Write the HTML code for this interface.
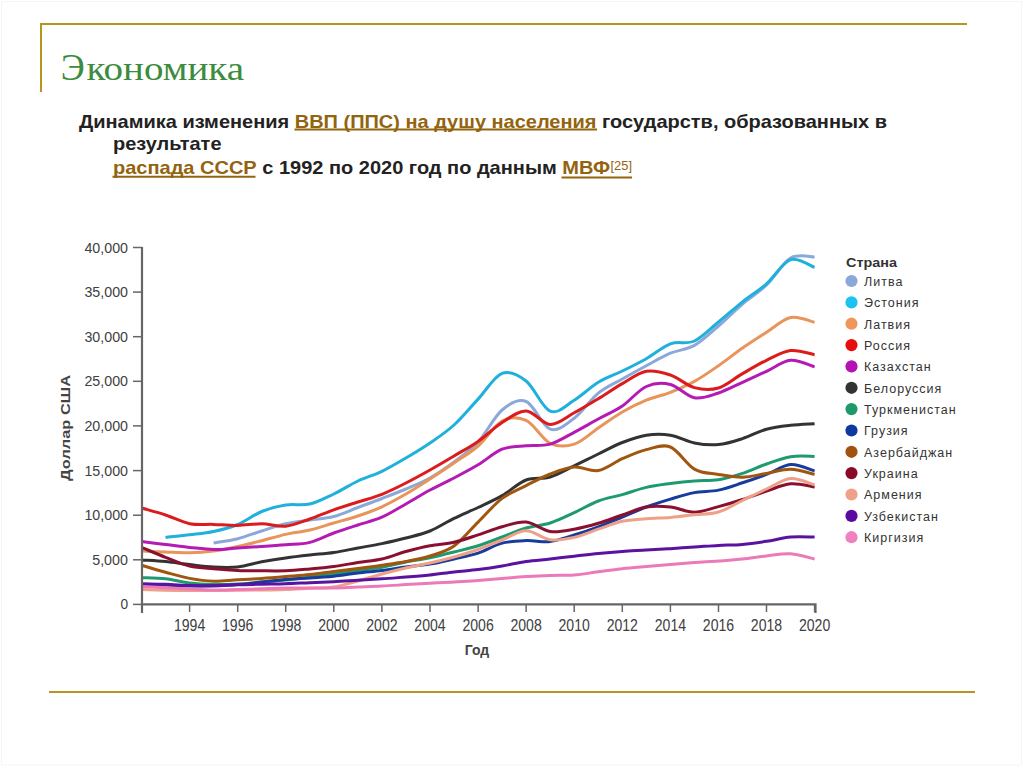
<!DOCTYPE html>
<html><head><meta charset="utf-8">
<style>
html,body{margin:0;padding:0;background:#fff;}
body{width:1024px;height:767px;overflow:hidden;position:relative;}
svg{position:absolute;left:0;top:0;}
.t{font-family:"Liberation Serif",serif;}
.s{font-family:"Liberation Sans",sans-serif;}
</style></head><body>
<svg width="1024" height="767" viewBox="0 0 1024 767">
<rect x="0" y="0" width="1024" height="767" fill="#fff"/>
<rect x="1.5" y="1.5" width="1020" height="763.5" fill="none" stroke="#f5f5f5" stroke-width="1"/>
<!-- frame -->
<path d="M41 92 V24 H967" fill="none" stroke="#b8951e" stroke-width="2"/>
<line x1="49" y1="692" x2="975" y2="692" stroke="#b8951e" stroke-width="2"/>
<text class="t" x="60.8" y="80" font-size="37" fill="#3d8b3d" textLength="24" lengthAdjust="spacingAndGlyphs">Э</text><text class="t" x="86.5" y="80" font-size="33" fill="#3d8b3d" textLength="157.5" lengthAdjust="spacingAndGlyphs">кономика</text>
<g class="s" font-weight="bold" font-size="18.5" fill="#222">
<text id="l1" x="79" y="127.5" textLength="808" lengthAdjust="spacingAndGlyphs">Динамика изменения <tspan fill="#93640f">ВВП (ППС) на душу населения</tspan> государств, образованных в</text>
<text id="l2" x="113" y="149.5" textLength="108.5" lengthAdjust="spacingAndGlyphs">результате</text>
<text id="l3" x="113" y="173.5" textLength="497" lengthAdjust="spacingAndGlyphs"><tspan fill="#93640f">распада СССР</tspan> с 1992 по 2020 год по данным <tspan fill="#93640f">МВФ</tspan></text>
</g>
<g stroke="#93640f" stroke-width="2">
<line x1="294.5" y1="129.6" x2="597" y2="129.6"/>
<line x1="112.5" y1="176.8" x2="255.5" y2="176.8"/>
<line x1="561.5" y1="177.5" x2="632" y2="177.5"/>
</g>
<text class="s" x="610.5" y="169.6" font-size="12.6" fill="#93640f" textLength="21.5" lengthAdjust="spacingAndGlyphs">[25]</text>
<!-- chart lines -->
<g fill="none" stroke-width="3" stroke-linejoin="round" stroke-linecap="butt">
<path d="M213.6 543.0 C217.6 542.3 229.6 540.7 237.7 538.7 C245.7 536.7 253.7 533.5 261.7 531.0 C269.7 528.5 277.7 525.6 285.7 523.8 C293.8 522.0 301.8 521.2 309.8 520.0 C317.8 518.8 325.8 518.6 333.8 516.5 C341.8 514.4 349.8 510.5 357.9 507.5 C365.9 504.5 373.9 501.6 381.9 498.5 C389.9 495.4 397.9 492.4 405.9 489.0 C414.0 485.6 422.0 482.5 430.0 478.0 C438.0 473.5 446.0 468.0 454.0 462.0 C462.0 456.0 470.0 450.7 478.1 442.0 C486.1 433.3 494.1 416.8 502.1 410.0 C510.1 403.2 518.1 398.3 526.1 401.5 C534.2 404.7 542.2 426.4 550.2 429.2 C558.2 432.0 566.2 424.2 574.2 418.2 C582.2 412.2 590.2 399.7 598.3 393.2 C606.3 386.7 614.3 383.6 622.3 379.0 C630.3 374.4 638.3 370.0 646.3 365.7 C654.4 361.4 662.4 356.6 670.4 353.2 C678.4 349.8 686.4 349.9 694.4 345.4 C702.4 340.9 710.4 332.9 718.5 326.0 C726.5 319.1 734.5 310.8 742.5 304.0 C750.5 297.2 758.5 292.7 766.5 285.0 C774.6 277.3 782.6 262.7 790.6 258.0 C798.6 253.3 810.6 257.2 814.6 257.0" stroke="#8aa8d8"/>
<path d="M165.5 537.5 C169.5 537.0 181.6 535.8 189.6 534.8 C197.6 533.8 205.6 533.2 213.6 531.5 C221.6 529.8 229.6 527.8 237.7 524.5 C245.7 521.2 253.7 514.8 261.7 511.5 C269.7 508.2 277.7 506.2 285.7 505.0 C293.8 503.8 301.8 505.8 309.8 504.0 C317.8 502.2 325.8 497.8 333.8 494.0 C341.8 490.2 349.8 484.8 357.9 481.0 C365.9 477.2 373.9 475.1 381.9 471.3 C389.9 467.5 397.9 462.7 405.9 458.0 C414.0 453.3 422.0 448.5 430.0 443.0 C438.0 437.5 446.0 432.3 454.0 425.0 C462.0 417.7 470.0 407.7 478.1 399.1 C486.1 390.5 494.1 376.3 502.1 373.3 C510.1 370.3 518.1 374.7 526.1 381.0 C534.2 387.3 542.2 408.0 550.2 411.2 C558.2 414.4 566.2 405.0 574.2 400.2 C582.2 395.4 590.2 387.2 598.3 382.3 C606.3 377.4 614.3 374.9 622.3 371.0 C630.3 367.1 638.3 363.2 646.3 358.7 C654.4 354.2 662.4 346.8 670.4 343.8 C678.4 340.9 686.4 344.6 694.4 341.0 C702.4 337.4 710.4 328.5 718.5 322.0 C726.5 315.5 734.5 308.2 742.5 301.8 C750.5 295.4 758.5 290.8 766.5 283.8 C774.6 276.8 782.6 262.3 790.6 259.6 C798.6 256.9 810.6 266.1 814.6 267.4" stroke="#20b0dc"/>
<path d="M141.5 551.0 C145.5 551.2 157.5 551.7 165.5 552.0 C173.6 552.3 181.6 553.0 189.6 552.8 C197.6 552.6 205.6 552.0 213.6 551.0 C221.6 550.0 229.6 548.2 237.7 546.5 C245.7 544.8 253.7 542.7 261.7 540.7 C269.7 538.7 277.7 536.2 285.7 534.4 C293.8 532.6 301.8 531.9 309.8 530.0 C317.8 528.1 325.8 525.3 333.8 523.0 C341.8 520.7 349.8 518.7 357.9 516.0 C365.9 513.3 373.9 510.5 381.9 506.8 C389.9 503.1 397.9 498.6 405.9 494.0 C414.0 489.4 422.0 484.2 430.0 479.0 C438.0 473.8 446.0 468.5 454.0 463.0 C462.0 457.5 470.0 453.0 478.1 446.0 C486.1 439.0 494.1 425.3 502.1 421.0 C510.1 416.7 518.1 416.7 526.1 420.4 C534.2 424.1 542.2 439.4 550.2 443.3 C558.2 447.2 566.2 446.7 574.2 444.1 C582.2 441.6 590.2 433.4 598.3 428.0 C606.3 422.6 614.3 416.6 622.3 412.0 C630.3 407.4 638.3 403.5 646.3 400.2 C654.4 396.9 662.4 395.4 670.4 392.3 C678.4 389.2 686.4 385.8 694.4 381.4 C702.4 377.0 710.4 371.3 718.5 365.7 C726.5 360.1 734.5 353.6 742.5 348.0 C750.5 342.4 758.5 337.4 766.5 332.3 C774.6 327.2 782.6 319.2 790.6 317.5 C798.6 315.8 810.6 321.4 814.6 322.2" stroke="#e8945a"/>
<path d="M141.5 508.0 C145.5 509.2 157.5 512.4 165.5 515.0 C173.6 517.6 181.6 522.1 189.6 523.7 C197.6 525.3 205.6 524.1 213.6 524.4 C221.6 524.7 229.6 525.5 237.7 525.4 C245.7 525.3 253.7 523.7 261.7 523.8 C269.7 523.9 277.7 527.0 285.7 526.2 C293.8 525.4 301.8 521.7 309.8 519.0 C317.8 516.3 325.8 512.6 333.8 509.8 C341.8 507.0 349.8 504.6 357.9 502.0 C365.9 499.4 373.9 497.5 381.9 494.3 C389.9 491.1 397.9 487.1 405.9 483.0 C414.0 478.9 422.0 474.5 430.0 470.0 C438.0 465.5 446.0 460.8 454.0 456.0 C462.0 451.2 470.0 447.0 478.1 441.4 C486.1 435.8 494.1 427.7 502.1 422.6 C510.1 417.5 518.1 410.7 526.1 411.0 C534.2 411.3 542.2 424.2 550.2 424.5 C558.2 424.8 566.2 417.1 574.2 412.8 C582.2 408.5 590.2 403.6 598.3 398.7 C606.3 393.8 614.3 388.2 622.3 383.6 C630.3 379.0 638.3 372.6 646.3 371.2 C654.4 369.8 662.4 372.3 670.4 375.0 C678.4 377.7 686.4 385.4 694.4 387.6 C702.4 389.8 710.4 390.3 718.5 388.0 C726.5 385.7 734.5 378.2 742.5 373.6 C750.5 369.0 758.5 364.2 766.5 360.3 C774.6 356.4 782.6 351.4 790.6 350.5 C798.6 349.6 810.6 354.0 814.6 354.7" stroke="#dc1c1c"/>
<path d="M141.5 541.6 C145.5 542.1 157.5 543.5 165.5 544.5 C173.6 545.5 181.6 546.6 189.6 547.4 C197.6 548.2 205.6 549.4 213.6 549.5 C221.6 549.6 229.6 548.5 237.7 548.0 C245.7 547.5 253.7 547.0 261.7 546.5 C269.7 546.0 277.7 545.5 285.7 544.8 C293.8 544.1 301.8 544.4 309.8 542.4 C317.8 540.4 325.8 535.9 333.8 533.0 C341.8 530.1 349.8 527.6 357.9 525.0 C365.9 522.4 373.9 520.7 381.9 517.2 C389.9 513.7 397.9 508.5 405.9 504.0 C414.0 499.5 422.0 494.3 430.0 490.0 C438.0 485.7 446.0 482.2 454.0 478.0 C462.0 473.8 470.0 469.6 478.1 464.8 C486.1 460.0 494.1 452.4 502.1 449.2 C510.1 446.0 518.1 446.5 526.1 445.7 C534.2 444.9 542.2 446.3 550.2 444.1 C558.2 441.9 566.2 436.5 574.2 432.3 C582.2 428.1 590.2 423.4 598.3 419.0 C606.3 414.6 614.3 411.4 622.3 406.0 C630.3 400.6 638.3 390.1 646.3 386.5 C654.4 382.9 662.4 382.6 670.4 384.5 C678.4 386.4 686.4 396.4 694.4 397.8 C702.4 399.2 710.4 395.6 718.5 393.0 C726.5 390.4 734.5 385.9 742.5 382.3 C750.5 378.7 758.5 375.0 766.5 371.3 C774.6 367.6 782.6 361.0 790.6 360.3 C798.6 359.6 810.6 365.8 814.6 366.9" stroke="#b41ab4"/>
<path d="M141.5 560.0 C145.5 560.3 157.5 560.8 165.5 561.6 C173.6 562.4 181.6 563.7 189.6 564.6 C197.6 565.5 205.6 566.6 213.6 567.0 C221.6 567.4 229.6 567.8 237.7 566.9 C245.7 566.0 253.7 563.3 261.7 561.8 C269.7 560.3 277.7 559.0 285.7 557.9 C293.8 556.8 301.8 555.9 309.8 555.0 C317.8 554.1 325.8 553.7 333.8 552.5 C341.8 551.3 349.8 549.5 357.9 548.0 C365.9 546.5 373.9 545.3 381.9 543.6 C389.9 541.9 397.9 540.1 405.9 538.0 C414.0 535.9 422.0 534.3 430.0 531.0 C438.0 527.7 446.0 522.3 454.0 518.4 C462.0 514.5 470.0 511.3 478.1 507.5 C486.1 503.7 494.1 500.2 502.1 495.6 C510.1 491.0 518.1 483.1 526.1 480.0 C534.2 476.9 542.2 479.4 550.2 477.0 C558.2 474.6 566.2 469.6 574.2 465.8 C582.2 462.0 590.2 457.9 598.3 454.0 C606.3 450.1 614.3 445.6 622.3 442.5 C630.3 439.4 638.3 436.4 646.3 435.2 C654.4 434.0 662.4 433.9 670.4 435.2 C678.4 436.5 686.4 441.4 694.4 443.0 C702.4 444.6 710.4 445.3 718.5 444.6 C726.5 443.9 734.5 441.2 742.5 438.6 C750.5 436.0 758.5 431.4 766.5 429.2 C774.6 427.0 782.6 426.2 790.6 425.3 C798.6 424.4 810.6 424.0 814.6 423.7" stroke="#333333"/>
<path d="M141.5 577.7 C145.5 577.9 157.5 577.9 165.5 578.8 C173.6 579.7 181.6 582.1 189.6 583.1 C197.6 584.1 205.6 584.4 213.6 584.5 C221.6 584.6 229.6 584.4 237.7 584.0 C245.7 583.6 253.7 582.7 261.7 582.0 C269.7 581.3 277.7 580.8 285.7 580.0 C293.8 579.2 301.8 578.0 309.8 577.0 C317.8 576.0 325.8 575.1 333.8 574.0 C341.8 572.9 349.8 571.6 357.9 570.5 C365.9 569.4 373.9 568.7 381.9 567.3 C389.9 565.9 397.9 563.6 405.9 562.0 C414.0 560.4 422.0 559.4 430.0 557.7 C438.0 556.0 446.0 554.0 454.0 552.0 C462.0 550.0 470.0 548.3 478.1 545.8 C486.1 543.3 494.1 540.0 502.1 537.0 C510.1 534.0 518.1 530.3 526.1 528.0 C534.2 525.7 542.2 525.5 550.2 523.0 C558.2 520.5 566.2 516.4 574.2 512.7 C582.2 509.0 590.2 504.0 598.3 501.0 C606.3 498.0 614.3 496.9 622.3 494.6 C630.3 492.3 638.3 489.2 646.3 487.4 C654.4 485.5 662.4 484.6 670.4 483.5 C678.4 482.4 686.4 481.5 694.4 480.9 C702.4 480.3 710.4 480.9 718.5 479.7 C726.5 478.4 734.5 476.0 742.5 473.4 C750.5 470.8 758.5 466.8 766.5 464.0 C774.6 461.2 782.6 458.0 790.6 456.7 C798.6 455.4 810.6 456.4 814.6 456.4" stroke="#1e9a6e"/>
<path d="M141.5 584.0 C145.5 584.2 157.5 584.7 165.5 585.0 C173.6 585.3 181.6 585.9 189.6 586.0 C197.6 586.1 205.6 585.8 213.6 585.5 C221.6 585.2 229.6 585.1 237.7 584.5 C245.7 583.9 253.7 582.9 261.7 582.0 C269.7 581.1 277.7 580.1 285.7 579.4 C293.8 578.7 301.8 578.5 309.8 578.0 C317.8 577.5 325.8 577.0 333.8 576.2 C341.8 575.4 349.8 574.0 357.9 573.0 C365.9 572.0 373.9 571.5 381.9 570.5 C389.9 569.5 397.9 568.1 405.9 567.0 C414.0 565.9 422.0 565.4 430.0 564.1 C438.0 562.8 446.0 560.8 454.0 559.0 C462.0 557.2 470.0 555.9 478.1 553.2 C486.1 550.6 494.1 545.2 502.1 543.1 C510.1 541.0 518.1 540.9 526.1 540.6 C534.2 540.3 542.2 542.4 550.2 541.5 C558.2 540.6 566.2 537.5 574.2 535.0 C582.2 532.5 590.2 529.8 598.3 526.8 C606.3 523.8 614.3 520.3 622.3 517.0 C630.3 513.7 638.3 510.0 646.3 507.0 C654.4 504.0 662.4 501.5 670.4 499.1 C678.4 496.7 686.4 494.1 694.4 492.6 C702.4 491.1 710.4 491.7 718.5 490.1 C726.5 488.5 734.5 485.4 742.5 482.8 C750.5 480.2 758.5 477.4 766.5 474.4 C774.6 471.4 782.6 465.2 790.6 464.6 C798.6 464.0 810.6 469.8 814.6 470.9" stroke="#173c9c"/>
<path d="M141.5 565.2 C145.5 566.4 157.5 570.0 165.5 572.2 C173.6 574.4 181.6 576.9 189.6 578.4 C197.6 579.9 205.6 581.0 213.6 581.2 C221.6 581.4 229.6 580.2 237.7 579.8 C245.7 579.3 253.7 579.0 261.7 578.5 C269.7 578.0 277.7 577.3 285.7 576.6 C293.8 575.9 301.8 575.4 309.8 574.5 C317.8 573.6 325.8 572.5 333.8 571.5 C341.8 570.5 349.8 569.5 357.9 568.5 C365.9 567.5 373.9 566.5 381.9 565.3 C389.9 564.1 397.9 563.0 405.9 561.5 C414.0 560.0 422.0 558.6 430.0 556.0 C438.0 553.4 446.0 551.6 454.0 546.0 C462.0 540.4 470.0 530.0 478.1 522.1 C486.1 514.2 494.1 504.5 502.1 498.4 C510.1 492.3 518.1 489.7 526.1 485.6 C534.2 481.5 542.2 477.1 550.2 474.0 C558.2 470.9 566.2 467.6 574.2 467.0 C582.2 466.4 590.2 471.9 598.3 470.5 C606.3 469.1 614.3 462.2 622.3 458.7 C630.3 455.2 638.3 451.6 646.3 449.6 C654.4 447.7 662.4 443.8 670.4 447.0 C678.4 450.2 686.4 464.5 694.4 469.1 C702.4 473.7 710.4 473.0 718.5 474.4 C726.5 475.8 734.5 477.4 742.5 477.2 C750.5 477.0 758.5 474.7 766.5 473.4 C774.6 472.1 782.6 469.0 790.6 469.2 C798.6 469.4 810.6 473.5 814.6 474.4" stroke="#a0560f"/>
<path d="M141.5 547.4 C145.5 549.0 157.5 554.2 165.5 557.3 C173.6 560.4 181.6 564.1 189.6 566.0 C197.6 567.9 205.6 568.0 213.6 568.7 C221.6 569.4 229.6 570.0 237.7 570.4 C245.7 570.8 253.7 570.7 261.7 570.8 C269.7 570.9 277.7 571.1 285.7 570.8 C293.8 570.5 301.8 569.7 309.8 569.0 C317.8 568.3 325.8 567.6 333.8 566.5 C341.8 565.4 349.8 563.8 357.9 562.5 C365.9 561.2 373.9 560.8 381.9 559.0 C389.9 557.2 397.9 553.7 405.9 551.5 C414.0 549.3 422.0 547.3 430.0 545.8 C438.0 544.2 446.0 544.0 454.0 542.2 C462.0 540.4 470.0 537.5 478.1 534.9 C486.1 532.3 494.1 528.8 502.1 526.7 C510.1 524.6 518.1 521.3 526.1 522.1 C534.2 522.9 542.2 530.3 550.2 531.5 C558.2 532.7 566.2 530.6 574.2 529.2 C582.2 527.8 590.2 525.7 598.3 523.3 C606.3 520.9 614.3 517.7 622.3 515.0 C630.3 512.3 638.3 508.3 646.3 507.0 C654.4 505.7 662.4 506.1 670.4 507.0 C678.4 507.9 686.4 512.3 694.4 512.2 C702.4 512.1 710.4 508.7 718.5 506.6 C726.5 504.5 734.5 502.1 742.5 499.5 C750.5 496.9 758.5 493.7 766.5 491.1 C774.6 488.5 782.6 484.5 790.6 483.8 C798.6 483.1 810.6 486.5 814.6 487.0" stroke="#8a1030"/>
<path d="M141.5 589.4 C145.5 589.5 157.5 590.0 165.5 590.2 C173.6 590.4 181.6 590.5 189.6 590.5 C197.6 590.5 205.6 590.5 213.6 590.5 C221.6 590.5 229.6 590.4 237.7 590.3 C245.7 590.2 253.7 590.1 261.7 590.0 C269.7 589.9 277.7 589.8 285.7 589.5 C293.8 589.2 301.8 588.7 309.8 588.3 C317.8 587.9 325.8 588.2 333.8 587.0 C341.8 585.8 349.8 583.2 357.9 581.0 C365.9 578.8 373.9 576.2 381.9 574.0 C389.9 571.8 397.9 569.8 405.9 568.0 C414.0 566.2 422.0 564.8 430.0 563.0 C438.0 561.2 446.0 559.2 454.0 557.0 C462.0 554.8 470.0 552.3 478.1 549.5 C486.1 546.7 494.1 543.1 502.1 540.0 C510.1 536.9 518.1 530.8 526.1 530.8 C534.2 530.8 542.2 538.6 550.2 539.7 C558.2 540.8 566.2 539.1 574.2 537.4 C582.2 535.6 590.2 531.9 598.3 529.2 C606.3 526.5 614.3 523.0 622.3 521.3 C630.3 519.5 638.3 519.4 646.3 518.7 C654.4 518.1 662.4 518.0 670.4 517.4 C678.4 516.8 686.4 515.7 694.4 514.8 C702.4 513.9 710.4 514.4 718.5 512.0 C726.5 509.6 734.5 504.3 742.5 500.5 C750.5 496.7 758.5 492.6 766.5 489.0 C774.6 485.4 782.6 479.3 790.6 478.6 C798.6 477.9 810.6 483.8 814.6 484.9" stroke="#eea088"/>
<path d="M141.5 583.9 C145.5 584.0 157.5 584.0 165.5 584.3 C173.6 584.6 181.6 585.2 189.6 585.5 C197.6 585.8 205.6 586.0 213.6 585.9 C221.6 585.8 229.6 585.1 237.7 584.8 C245.7 584.5 253.7 584.4 261.7 584.2 C269.7 584.0 277.7 584.0 285.7 583.7 C293.8 583.5 301.8 583.0 309.8 582.7 C317.8 582.4 325.8 582.1 333.8 581.7 C341.8 581.3 349.8 580.7 357.9 580.2 C365.9 579.7 373.9 579.3 381.9 578.8 C389.9 578.3 397.9 577.6 405.9 577.0 C414.0 576.4 422.0 575.8 430.0 575.0 C438.0 574.2 446.0 572.9 454.0 572.0 C462.0 571.1 470.0 570.6 478.1 569.6 C486.1 568.6 494.1 567.4 502.1 566.0 C510.1 564.6 518.1 562.7 526.1 561.5 C534.2 560.3 542.2 559.9 550.2 559.0 C558.2 558.1 566.2 557.1 574.2 556.2 C582.2 555.3 590.2 554.3 598.3 553.5 C606.3 552.7 614.3 552.0 622.3 551.4 C630.3 550.8 638.3 550.5 646.3 550.0 C654.4 549.5 662.4 549.2 670.4 548.7 C678.4 548.2 686.4 547.5 694.4 547.0 C702.4 546.5 710.4 545.8 718.5 545.4 C726.5 545.0 734.5 545.1 742.5 544.4 C750.5 543.7 758.5 542.5 766.5 541.3 C774.6 540.1 782.6 537.8 790.6 537.1 C798.6 536.4 810.6 537.1 814.6 537.1" stroke="#5a12a0"/>
<path d="M141.5 586.6 C145.5 586.8 157.5 587.4 165.5 587.8 C173.6 588.2 181.6 588.6 189.6 589.0 C197.6 589.4 205.6 589.9 213.6 590.0 C221.6 590.1 229.6 589.7 237.7 589.5 C245.7 589.3 253.7 589.0 261.7 588.8 C269.7 588.5 277.7 588.1 285.7 588.0 C293.8 587.9 301.8 588.0 309.8 588.0 C317.8 588.0 325.8 588.2 333.8 588.0 C341.8 587.8 349.8 587.3 357.9 587.0 C365.9 586.7 373.9 586.5 381.9 586.1 C389.9 585.7 397.9 585.1 405.9 584.6 C414.0 584.1 422.0 583.6 430.0 583.2 C438.0 582.8 446.0 582.5 454.0 582.0 C462.0 581.5 470.0 581.1 478.1 580.5 C486.1 579.9 494.1 579.2 502.1 578.5 C510.1 577.8 518.1 577.0 526.1 576.5 C534.2 576.0 542.2 575.8 550.2 575.5 C558.2 575.2 566.2 575.6 574.2 575.0 C582.2 574.4 590.2 572.8 598.3 571.8 C606.3 570.8 614.3 569.6 622.3 568.7 C630.3 567.8 638.3 567.2 646.3 566.5 C654.4 565.8 662.4 565.1 670.4 564.4 C678.4 563.7 686.4 563.1 694.4 562.5 C702.4 561.9 710.4 561.6 718.5 561.0 C726.5 560.4 734.5 559.9 742.5 559.0 C750.5 558.1 758.5 556.8 766.5 555.9 C774.6 555.0 782.6 553.3 790.6 553.8 C798.6 554.3 810.6 558.1 814.6 559.0" stroke="#ec7ab8"/>
</g>
<!-- axes -->
<g stroke="#666" stroke-width="1.5">
<line x1="133" y1="604.4" x2="142" y2="604.4"/><line x1="133" y1="559.8" x2="142" y2="559.8"/><line x1="133" y1="515.2" x2="142" y2="515.2"/><line x1="133" y1="470.6" x2="142" y2="470.6"/><line x1="133" y1="425.9" x2="142" y2="425.9"/><line x1="133" y1="381.3" x2="142" y2="381.3"/><line x1="133" y1="336.7" x2="142" y2="336.7"/><line x1="133" y1="292.1" x2="142" y2="292.1"/><line x1="133" y1="247.5" x2="142" y2="247.5"/>
<line x1="189.6" y1="604" x2="189.6" y2="612"/><line x1="237.7" y1="604" x2="237.7" y2="612"/><line x1="285.7" y1="604" x2="285.7" y2="612"/><line x1="333.8" y1="604" x2="333.8" y2="612"/><line x1="381.9" y1="604" x2="381.9" y2="612"/><line x1="430.0" y1="604" x2="430.0" y2="612"/><line x1="478.1" y1="604" x2="478.1" y2="612"/><line x1="526.1" y1="604" x2="526.1" y2="612"/><line x1="574.2" y1="604" x2="574.2" y2="612"/><line x1="622.3" y1="604" x2="622.3" y2="612"/><line x1="670.4" y1="604" x2="670.4" y2="612"/><line x1="718.5" y1="604" x2="718.5" y2="612"/><line x1="766.5" y1="604" x2="766.5" y2="612"/><line x1="814.6" y1="604" x2="814.6" y2="612"/>
</g>
<path d="M142 247 V613 M142 604.4 H815.5 V613" fill="none" stroke="#666" stroke-width="2.2"/>
<g class="s" font-size="15" fill="#404040" text-anchor="end">
<text x="128" y="609.4" textLength="7.6" lengthAdjust="spacingAndGlyphs">0</text><text x="128" y="564.8" textLength="35.8" lengthAdjust="spacingAndGlyphs">5,000</text><text x="128" y="520.2" textLength="43.6" lengthAdjust="spacingAndGlyphs">10,000</text><text x="128" y="475.6" textLength="43.6" lengthAdjust="spacingAndGlyphs">15,000</text><text x="128" y="430.9" textLength="43.6" lengthAdjust="spacingAndGlyphs">20,000</text><text x="128" y="386.3" textLength="43.6" lengthAdjust="spacingAndGlyphs">25,000</text><text x="128" y="341.7" textLength="43.6" lengthAdjust="spacingAndGlyphs">30,000</text><text x="128" y="297.1" textLength="43.6" lengthAdjust="spacingAndGlyphs">35,000</text><text x="128" y="252.5" textLength="43.6" lengthAdjust="spacingAndGlyphs">40,000</text>
</g>
<g class="s" font-size="15" fill="#404040" text-anchor="middle">
<text x="189.6" y="631" font-size="15.6" textLength="31.3" lengthAdjust="spacingAndGlyphs">1994</text><text x="237.7" y="631" font-size="15.6" textLength="31.3" lengthAdjust="spacingAndGlyphs">1996</text><text x="285.7" y="631" font-size="15.6" textLength="31.3" lengthAdjust="spacingAndGlyphs">1998</text><text x="333.8" y="631" font-size="15.6" textLength="31.3" lengthAdjust="spacingAndGlyphs">2000</text><text x="381.9" y="631" font-size="15.6" textLength="31.3" lengthAdjust="spacingAndGlyphs">2002</text><text x="430.0" y="631" font-size="15.6" textLength="31.3" lengthAdjust="spacingAndGlyphs">2004</text><text x="478.1" y="631" font-size="15.6" textLength="31.3" lengthAdjust="spacingAndGlyphs">2006</text><text x="526.1" y="631" font-size="15.6" textLength="31.3" lengthAdjust="spacingAndGlyphs">2008</text><text x="574.2" y="631" font-size="15.6" textLength="31.3" lengthAdjust="spacingAndGlyphs">2010</text><text x="622.3" y="631" font-size="15.6" textLength="31.3" lengthAdjust="spacingAndGlyphs">2012</text><text x="670.4" y="631" font-size="15.6" textLength="31.3" lengthAdjust="spacingAndGlyphs">2014</text><text x="718.5" y="631" font-size="15.6" textLength="31.3" lengthAdjust="spacingAndGlyphs">2016</text><text x="766.5" y="631" font-size="15.6" textLength="31.3" lengthAdjust="spacingAndGlyphs">2018</text><text x="814.6" y="631" font-size="15.6" textLength="31.3" lengthAdjust="spacingAndGlyphs">2020</text>
</g>
<text class="s" x="477" y="655" font-size="14" font-weight="bold" fill="#444" text-anchor="middle">Год</text>
<text class="s" transform="translate(70.3,428) rotate(-90)" font-size="13.2" font-weight="bold" fill="#444" text-anchor="middle" textLength="106" lengthAdjust="spacingAndGlyphs">Доллар США</text>
<text class="s" x="846" y="267.2" font-size="13.6" font-weight="bold" fill="#333" textLength="51" lengthAdjust="spacingAndGlyphs">Страна</text>
<g class="s" font-size="12.5" fill="#333" letter-spacing="1">
<circle cx="851.5" cy="281.0" r="6.1" fill="#8aa8d8"/><text x="864" y="285.8">Литва</text><circle cx="851.5" cy="302.4" r="6.1" fill="#1cc3f0"/><text x="864" y="307.2">Эстония</text><circle cx="851.5" cy="323.7" r="6.1" fill="#f0965a"/><text x="864" y="328.5">Латвия</text><circle cx="851.5" cy="345.1" r="6.1" fill="#e80c0c"/><text x="864" y="349.9">Россия</text><circle cx="851.5" cy="366.4" r="6.1" fill="#b412b4"/><text x="864" y="371.2">Казахстан</text><circle cx="851.5" cy="387.8" r="6.1" fill="#333333"/><text x="864" y="392.6">Белоруссия</text><circle cx="851.5" cy="409.1" r="6.1" fill="#1e9a6a"/><text x="864" y="413.9">Туркменистан</text><circle cx="851.5" cy="430.5" r="6.1" fill="#0e3aa0"/><text x="864" y="435.3">Грузия</text><circle cx="851.5" cy="451.8" r="6.1" fill="#a0520e"/><text x="864" y="456.6">Азербайджан</text><circle cx="851.5" cy="473.1" r="6.1" fill="#8a0a28"/><text x="864" y="477.9">Украина</text><circle cx="851.5" cy="494.5" r="6.1" fill="#f0a088"/><text x="864" y="499.3">Армения</text><circle cx="851.5" cy="515.9" r="6.1" fill="#5a0aa0"/><text x="864" y="520.6">Узбекистан</text><circle cx="851.5" cy="537.2" r="6.1" fill="#f080c0"/><text x="864" y="542.0">Киргизия</text>
</g>
</svg>
</body></html>
